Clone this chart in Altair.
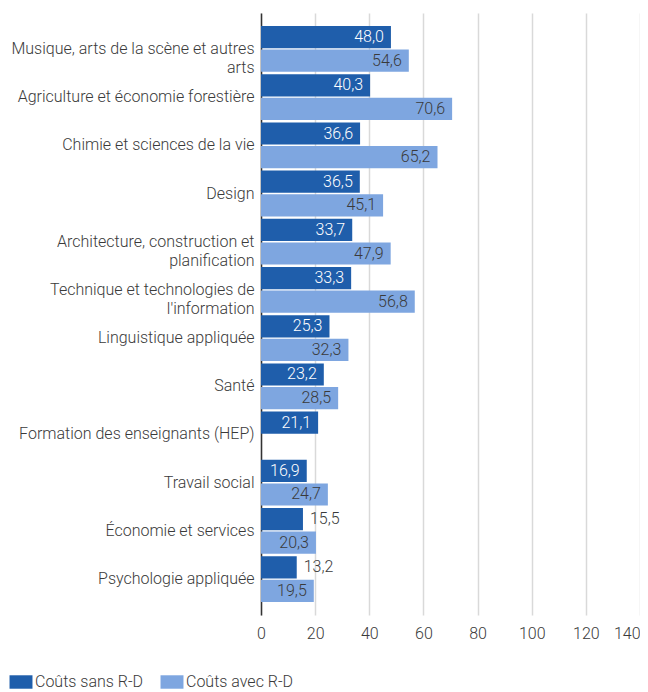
import altair as alt
import pandas as pd

categories = [
    "Musique, arts de la scène et autres\narts",
    "Agriculture et économie forestière",
    "Chimie et sciences de la vie",
    "Design",
    "Architecture, construction et\nplanification",
    "Technique et technologies de\nl'information",
    "Linguistique appliquée",
    "Santé",
    "Formation des enseignants (HEP)",
    "Travail social",
    "Économie et services",
    "Psychologie appliquée",
]
sans_rd = [48.0, 40.3, 36.6, 36.5, 33.7, 33.3, 25.3, 23.2, 21.1, 16.9, 15.5, 13.2]
avec_rd = [54.6, 70.6, 65.2, 45.1, 47.9, 56.8, 32.3, 28.5, None, 24.7, 20.3, 19.5]
series = ["Coûts sans R-D", "Coûts avec R-D"]
colors = ["#1F5EAB", "#7EA6E0"]
x_ticks = [0, 20, 40, 60, 80, 100, 120, 140]

rows = []
for c, a, b in zip(categories, sans_rd, avec_rd):
    for s, v in zip(series, [a, b]):
        if v is not None:
            rows.append({"cat": c, "serie": s, "val": v,
                         "lab": f"{v:.1f}".replace(".", ",")})
df = pd.DataFrame(rows)

TXT = "#3a3a3a"
FS = 16
FW = 300

y_enc = alt.Y(
    "cat:N",
    sort=categories,
    scale=alt.Scale(domain=categories, paddingInner=0.05, paddingOuter=0.27),
    axis=alt.Axis(
        title=None, ticks=False, domain=True, domainColor="#333333", domainWidth=1.5,
        labelFontSize=FS, labelFontWeight=FW, labelColor=TXT, labelPadding=7, labelLimit=400,
        labelLineHeight=19, labelExpr="split(datum.label, '\\n')", grid=False,
    ),
)
yoff = alt.YOffset("serie:N", scale=alt.Scale(domain=series, paddingInner=0.06, paddingOuter=0))
x_enc = alt.X(
    "val:Q",
    scale=alt.Scale(domain=[0, 140], nice=False),
    axis=alt.Axis(
        title=None, values=x_ticks, grid=True, gridColor="#d9d9d9", gridWidth=1.5,
        domain=False, ticks=False, labelFontSize=FS, labelFontWeight=FW, labelColor=TXT,
        labelPadding=10,
        labelAlign={"condition": {"test": "datum.value == 140", "value": "right"}, "value": "center"},
    ),
)

base = alt.Chart(df)

bars = base.mark_bar().encode(
    y=y_enc, yOffset=yoff, x=x_enc,
    color=alt.Color(
        "serie:N",
        scale=alt.Scale(domain=series, range=colors),
        legend=alt.Legend(
            title=None, orient="none", direction="horizontal",
            legendX=-248, legendY=661, padding=0,
            symbolType="M-1.64,-0.96H1.64V0.96H-1.64Z", symbolSize=196,
            symbolStrokeWidth=0, symbolOpacity=1,
            labelFontSize=FS, labelFontWeight=FW, labelColor=TXT, labelOffset=6,
            columnPadding=16,
        ),
    ),
)

def vtext(filt, align, dx, color):
    return base.transform_filter(filt).mark_text(
        align=align, baseline="middle", dx=dx, color=color, fontSize=FS, fontWeight=FW
    ).encode(y=alt.Y("cat:N", sort=categories), yOffset=yoff, x="val:Q", text="lab:N")

txt_dark_in = vtext((alt.datum.serie == series[0]) & (alt.datum.val >= 16), "right", -7, "white")
txt_dark_out = vtext((alt.datum.serie == series[0]) & (alt.datum.val < 16), "left", 7, TXT)
txt_light = vtext(alt.datum.serie == series[1], "right", -7, TXT)

chart = alt.layer(bars, txt_dark_in, txt_dark_out, txt_light).properties(
    width=379, height=602,
    autosize=alt.AutoSizeParams(type="none"),
    padding={"left": 253, "top": 5, "right": 0, "bottom": 77},
).configure(font="Roboto").configure_view(stroke=None)

chart.save("out.html", embed_options={"renderer": "svg", "actions": False})
